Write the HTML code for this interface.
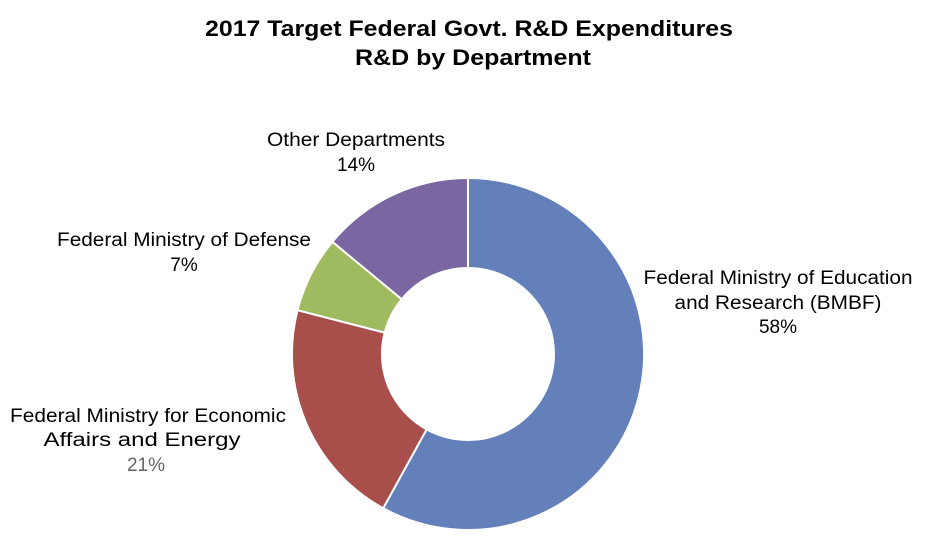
<!DOCTYPE html>
<html><head><style>
body{margin:0;background:#fff;}
svg text{font-family:"Liberation Sans",Arial,sans-serif;}
</style></head><body>
<svg width="928" height="543" xmlns="http://www.w3.org/2000/svg">
<text x="469" y="36" text-anchor="middle" font-size="22" font-weight="bold" fill="#000" textLength="528" lengthAdjust="spacingAndGlyphs">2017 Target Federal Govt. R&amp;D Expenditures</text>
<text x="473" y="65" text-anchor="middle" font-size="22" font-weight="bold" fill="#000" textLength="236" lengthAdjust="spacingAndGlyphs">R&amp;D by Department</text>
<g stroke="#fff" stroke-width="2">
<path d="M468,178 A176,176 0 1,1 383.2,508.2 L426.6,429.4 A86,86 0 1,0 468,268 Z" fill="#6380BA"/>
<path d="M383.2,508.2 A176,176 0 0,1 297.5,310.2 L384.7,332.6 A86,86 0 0,0 426.6,429.4 Z" fill="#A94F4B"/>
<path d="M297.5,310.2 A176,176 0 0,1 332.4,241.8 L401.7,299.2 A86,86 0 0,0 384.7,332.6 Z" fill="#9FBA5F"/>
<path d="M332.4,241.8 A176,176 0 0,1 468,178 L468,268 A86,86 0 0,0 401.7,299.2 Z" fill="#7A66A0"/>
</g>
<g font-size="19" fill="#000" text-anchor="middle">
<text x="356" y="146" textLength="178" lengthAdjust="spacingAndGlyphs">Other Departments</text>
<text x="356" y="171">14%</text>
<text x="184" y="246" textLength="254" lengthAdjust="spacingAndGlyphs">Federal Ministry of Defense</text>
<text x="184" y="271">7%</text>
<text x="778" y="284" textLength="269" lengthAdjust="spacingAndGlyphs">Federal Ministry of Education</text>
<text x="778" y="309" textLength="207" lengthAdjust="spacingAndGlyphs">and Research (BMBF)</text>
<text x="778" y="333">58%</text>
<text x="148" y="422" textLength="276" lengthAdjust="spacingAndGlyphs">Federal Ministry for Economic</text>
<text x="142" y="446" textLength="197" lengthAdjust="spacingAndGlyphs">Affairs and Energy</text>
<text x="146" y="471" fill="#666">21%</text>
</g>
</svg>
</body></html>
